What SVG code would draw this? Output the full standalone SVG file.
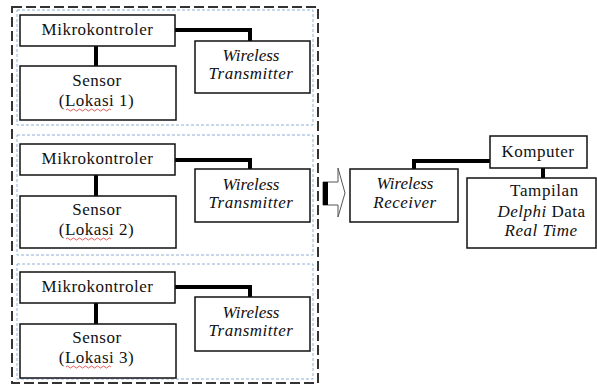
<svg xmlns="http://www.w3.org/2000/svg" width="597" height="385" viewBox="0 0 597 385">
<style>
.box{fill:#fff;stroke:#111;stroke-width:1.5}
.outer{fill:none;stroke:#333;stroke-width:2;stroke-dasharray:10,4}
.panel{fill:none;stroke:#8fb0d8;stroke-width:1;stroke-dasharray:3,2}
.wire{fill:none;stroke:#000;stroke-width:4}
.sq{fill:none;stroke:#e03030;stroke-width:0.8}
</style>
<rect x="0" y="0" width="597" height="385" fill="#fff"/>
<rect class="outer" x="12" y="7" width="306" height="376"/>
<g id="panels">
<rect class="panel" x="17" y="10" width="296" height="115"/>
<rect class="panel" x="17" y="135" width="296" height="120"/>
<rect class="panel" x="17" y="264" width="296" height="115"/>
</g>
<g id="connectors">
<path class="wire" d="M96 46V66M175 30H250V41"/>
<path class="wire" d="M96 175V196M175 160H250V169"/>
<path class="wire" d="M96 303V324M175 287H250V297"/>
<path class="wire" d="M490 161H414V169M543 168V178"/>
<g id="arrow">
<polygon points="323,182 338,182 338,168 345,193 338,217 338,205 323,205" fill="#fff" stroke="#555" stroke-width="1"/>
<rect x="323" y="182" width="5" height="23" fill="#000"/>
</g>
</g>
<g id="mikro1"><rect class="box" x="20" y="15" width="155" height="31"/><text font-family="Liberation Serif" font-size="17" letter-spacing="0.5" fill="#111" text-anchor="middle" x="97.5" y="35">Mikrokontroler</text></g>
<g id="sensor1"><rect class="box" x="20" y="66" width="156" height="54"/><text font-family="Liberation Serif" font-size="17" letter-spacing="0.5" fill="#111" text-anchor="middle" x="97" y="86">Sensor</text><text font-family="Liberation Serif" font-size="17" letter-spacing="0.5" fill="#111" text-anchor="middle" x="96.5" y="106">(Lokasi 1)</text><path class="sq" d="M66 110q1.5-2 3 0t3 0t3 0t3 0t3 0t3 0t3 0t3 0t3 0t3 0t3 0t3 0t3 0t3 0t3 0"/></g>
<g id="wt1"><rect class="box" x="195" y="41" width="115" height="52"/><text font-family="Liberation Serif" font-style="italic" font-size="17" fill="#111" text-anchor="middle" x="251" y="61">Wireless</text><text font-family="Liberation Serif" font-style="italic" font-size="17" letter-spacing="0.5" fill="#111" text-anchor="middle" x="251" y="79">Transmitter</text></g>
<g id="mikro2"><rect class="box" x="20" y="144" width="155" height="31"/><text font-family="Liberation Serif" font-size="17" letter-spacing="0.5" fill="#111" text-anchor="middle" x="97.5" y="164">Mikrokontroler</text></g>
<g id="sensor2"><rect class="box" x="20" y="196" width="156" height="52"/><text font-family="Liberation Serif" font-size="17" letter-spacing="0.5" fill="#111" text-anchor="middle" x="97" y="215">Sensor</text><text font-family="Liberation Serif" font-size="17" letter-spacing="0.5" fill="#111" text-anchor="middle" x="96.5" y="235">(Lokasi 2)</text><path class="sq" d="M66 239q1.5-2 3 0t3 0t3 0t3 0t3 0t3 0t3 0t3 0t3 0t3 0t3 0t3 0t3 0t3 0t3 0"/></g>
<g id="wt2"><rect class="box" x="195" y="169" width="115" height="53"/><text font-family="Liberation Serif" font-style="italic" font-size="17" fill="#111" text-anchor="middle" x="251" y="190">Wireless</text><text font-family="Liberation Serif" font-style="italic" font-size="17" letter-spacing="0.5" fill="#111" text-anchor="middle" x="251" y="208">Transmitter</text></g>
<g id="mikro3"><rect class="box" x="20" y="272" width="155" height="31"/><text font-family="Liberation Serif" font-size="17" letter-spacing="0.5" fill="#111" text-anchor="middle" x="97.5" y="292">Mikrokontroler</text></g>
<g id="sensor3"><rect class="box" x="20" y="324" width="156" height="54"/><text font-family="Liberation Serif" font-size="17" letter-spacing="0.5" fill="#111" text-anchor="middle" x="97" y="343">Sensor</text><text font-family="Liberation Serif" font-size="17" letter-spacing="0.5" fill="#111" text-anchor="middle" x="96.5" y="363">(Lokasi 3)</text><path class="sq" d="M66 367q1.5-2 3 0t3 0t3 0t3 0t3 0t3 0t3 0t3 0t3 0t3 0t3 0t3 0t3 0t3 0t3 0"/></g>
<g id="wt3"><rect class="box" x="195" y="297" width="115" height="54"/><text font-family="Liberation Serif" font-style="italic" font-size="17" fill="#111" text-anchor="middle" x="251" y="318">Wireless</text><text font-family="Liberation Serif" font-style="italic" font-size="17" letter-spacing="0.5" fill="#111" text-anchor="middle" x="251" y="336">Transmitter</text></g>
<g id="receiver"><rect class="box" x="350" y="169" width="108" height="53"/><text font-family="Liberation Serif" font-style="italic" font-size="17" fill="#111" text-anchor="middle" x="405" y="189">Wireless</text><text font-family="Liberation Serif" font-style="italic" font-size="17" letter-spacing="0.5" fill="#111" text-anchor="middle" x="405" y="208">Receiver</text></g>
<g id="komputer"><rect class="box" x="490" y="136" width="97" height="32"/><text font-family="Liberation Serif" font-size="17" letter-spacing="0.5" fill="#111" text-anchor="middle" x="538" y="157">Komputer</text></g>
<g id="tampilan"><rect class="box" x="467" y="178" width="129" height="70"/><text font-family="Liberation Serif" font-size="17" letter-spacing="0.6" fill="#111" text-anchor="middle" x="544.5" y="196">Tampilan</text><text font-family="Liberation Serif" font-size="17" letter-spacing="0.5" fill="#111" text-anchor="middle" x="541.5" y="217"><tspan font-style="italic">Delphi</tspan> Data</text><text font-family="Liberation Serif" font-style="italic" font-size="17" letter-spacing="0.5" fill="#111" text-anchor="middle" x="541" y="236">Real Time</text></g>
</svg>
